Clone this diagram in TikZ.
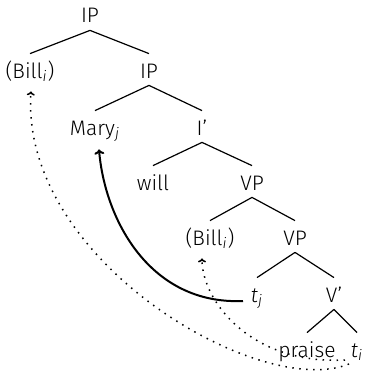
\documentclass[tikz,border=0pt]{standalone}
\usepackage{fontspec}
\setmainfont{Fira Sans}[UprightFont=* Light, ItalicFont=* Light Italic]
\usetikzlibrary{calc,arrows.meta}
\newcommand\idx[1]{\textsubscript{\itshape #1}}

\begin{document}
\begin{tikzpicture}[x=0.5pt,y=-0.5pt,
  cat/.style={font=\fontsize{10.5}{12}\selectfont, inner xsep=4pt, inner ysep=3.5pt,
              text height=8.5pt, text depth=0pt, anchor=base},
  branch/.style={line width=0.6pt},
  move/.style={line width=1pt, -{To[length=2.5pt,width=5pt]}},
  trace/.style={line width=0.75pt, dash pattern=on 0.75pt off 2.75pt,
                -{To[length=2pt,width=4pt]}}]
\useasboundingbox (0,0) rectangle (365,380);

% categories and words, placed by baseline
\node[cat] (IP0)    at (90,23)   {IP};
\node[cat] (Bill1)  at (30,78)   {(Bill\idx{i})};
\node[cat] (IP1)    at (149,78)  {IP};
\node[cat] (Mary)   at (95,135)  {Mary\idx{j}};
\node[cat] (Ibar)   at (202,135) {I'};
\node[cat] (will)   at (153,190) {will};
\node[cat] (VP1)    at (252,190) {VP};
\node[cat] (Bill2)  at (210,245) {(Bill\idx{i})};
\node[cat] (VP2)    at (295,245) {VP};
\node[cat] (tj)     at (257,302) {\textit{t}\idx{j}};
\node[cat] (Vbar)   at (334,302) {V'};
\node[cat] (praise) at (307,357) {praise};
\node[cat] (ti)     at (357,357) {\textit{t}\idx{i}};

% branches
\draw[branch] (IP0.south) -- (Bill1.north);
\draw[branch] (IP0.south) -- (IP1.north);
\draw[branch] (IP1.south) -- (Mary.north);
\draw[branch] (IP1.south) -- (Ibar.north);
\draw[branch] (Ibar.south) -- (will.north);
\draw[branch] (Ibar.south) -- (VP1.north);
\draw[branch] (VP1.south) -- (Bill2.north);
\draw[branch] (VP1.south) -- (VP2.north);
\draw[branch] (VP2.south) -- (tj.north);
\draw[branch] (VP2.south) -- (Vbar.north);
\draw[branch] (Vbar.south) -- (praise.north);
\draw[branch] (Vbar.south) -- (ti.north);

% movement of Mary
\draw[move] ($(tj.base)+(-14,-1)$) .. controls (150,305) and (105,220) .. ($(Mary.south)+(4,7)$);

% chain of Bill
\draw[trace] ($(ti.base)+(-12,3)$) .. controls (250,365) and (202,300) .. ($(Bill2.south)+(-8,6)$);
\draw[trace] ($(ti.base)+(-8,7)$) .. controls (260,400) and (20,260) .. ($(Bill1.south)+(1,6)$);
\end{tikzpicture}
\end{document}
